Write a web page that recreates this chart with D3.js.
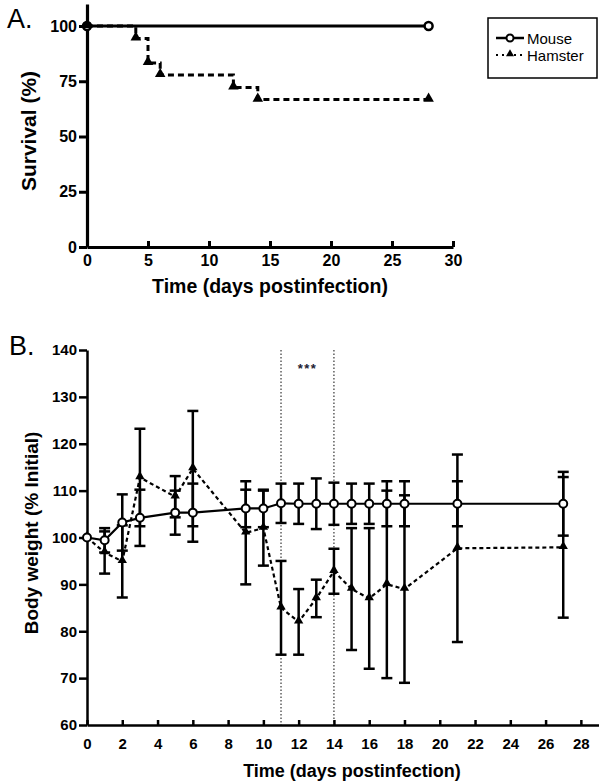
<!DOCTYPE html>
<html>
<head>
<meta charset="utf-8">
<script src="https://cdn.jsdelivr.net/npm/d3@7"></script>
<style>
  html, body { margin: 0; padding: 0; background: #fff; }
  svg { display: block; font-family: "Liberation Sans", Arial, sans-serif; }
</style>
</head>
<body>
<svg id="chart" width="600" height="782"></svg>
<script>
// ---------- Panel A: survival ----------
const survMouseDays = [0, 28];
const survMouse = [100, 100];
const survHamsterDays = [0, 4, 5, 6, 12, 14, 28];
const survHamster = [100, 94.4, 83.3, 77.8, 72.2, 66.7, 66.7];
const survXTicks = [0, 5, 10, 15, 20, 25, 30];
const survYTicks = [0, 25, 50, 75, 100];

// ---------- Panel B: body weight ----------
const bwDays = [0, 1, 2, 3, 5, 6, 9, 10, 11, 12, 13, 14, 15, 16, 17, 18, 21, 27];
const bwMouse = [100, 99.4, 103.2, 104.2, 105.3, 105.3, 106.2, 106.2, 107.3, 107.2, 107.2, 107.2, 107.2, 107.2, 107.2, 107.2, 107.2, 107.2];
const bwMouseSD = [0, 2.6, 6, 6, 4.7, 6.2, 4, 4, 4.2, 4.3, 5.4, 4.5, 4.3, 4.3, 4.8, 4.8, 4.8, 6.8];
const bwHamster = [100, 96.8, 94.9, 112.8, 108.7, 114.7, 101, 102, 85, 82, 87, 92.8, 89, 87, 90, 89, 97.7, 97.9];
const bwHamsterSD = [0, 4.5, 7.7, 10.4, 4.4, 12.3, 11, 8, 10, 7, 4, 4.8, 13, 15, 20, 20, 20, 15];
const bwXTicks = [0, 2, 4, 6, 8, 10, 12, 14, 16, 18, 20, 22, 24, 26, 28];
const bwYTicks = [60, 70, 80, 90, 100, 110, 120, 130, 140];
const sigDays = [11, 14];
const seriesNames = ["Mouse", "Hamster"];

const svg = d3.select("#chart");

// ======= Panel A =======
const xA = d3.scaleLinear().domain([0, 30]).range([87, 453]);
const yA = d3.scaleLinear().domain([0, 110]).range([247, 3.9]);

const gA = svg.append("g");
const axA_x = gA.append("g").attr("transform", `translate(0,${yA(0)})`)
  .call(d3.axisBottom(xA).tickValues(survXTicks).tickSizeInner(-6).tickSizeOuter(0).tickPadding(8).tickFormat(d3.format("d")));
const axA_y = gA.append("g").attr("transform", `translate(${xA(0)},0)`)
  .call(d3.axisLeft(yA).tickValues(survYTicks).tickSizeInner(8).tickSizeOuter(0).tickPadding(2).tickFormat(d3.format("d")));
[axA_x, axA_y].forEach(ax => {
  ax.selectAll("path.domain").attr("stroke", "#000").attr("stroke-width", 3.2);
  ax.selectAll(".tick line").attr("stroke", "#000").attr("stroke-width", 3);
  ax.selectAll(".tick text").attr("fill", "#000").style("font-size", "16px").style("font-weight", "bold").style("font-family", "'Liberation Sans', Arial, sans-serif");
});

const lineA = d3.line().x(d => xA(d[0])).y(d => yA(d[1])).curve(d3.curveStepAfter);
const mouseA = survMouseDays.map((d, i) => [d, survMouse[i]]);
const hamA = survHamsterDays.map((d, i) => [d, survHamster[i]]);

gA.append("path").datum(mouseA).attr("d", lineA).attr("fill", "none").attr("stroke", "#000").attr("stroke-width", 3);
gA.append("path").datum(hamA).attr("d", lineA).attr("fill", "none").attr("stroke", "#000").attr("stroke-width", 3).attr("stroke-dasharray", "6,4");

gA.selectAll("circle.mA").data(mouseA).enter().append("circle")
  .attr("cx", d => xA(d[0])).attr("cy", d => yA(d[1])).attr("r", 4)
  .attr("fill", "#fff").attr("stroke", "#000").attr("stroke-width", 2.5);
gA.selectAll("path.hA").data(hamA).enter().append("path")
  .attr("d", d3.symbol(d3.symbolTriangle, 48))
  .attr("transform", d => `translate(${xA(d[0])},${yA(d[1]) - 1})`)
  .attr("fill", "#000");

gA.append("text").attr("x", 7).attr("y", 28).text("A.").style("font-size", "27px").attr("fill", "#000");
gA.append("text").attr("transform", `translate(36,131) rotate(-90)`).attr("text-anchor", "middle")
  .text("Survival (%)").style("font-size", "21px").style("font-weight", "bold");
gA.append("text").attr("x", (xA(0) + xA(30)) / 2).attr("y", 293).attr("text-anchor", "middle")
  .text("Time (days postinfection)").style("font-size", "19.5px").style("font-weight", "bold");

// Legend
const lg = svg.append("g");
lg.append("rect").attr("x", 488).attr("y", 18).attr("width", 109).attr("height", 60)
  .attr("fill", "#fff").attr("stroke", "#000").attr("stroke-width", 1.5);
lg.append("line").attr("x1", 496).attr("x2", 524).attr("y1", 38).attr("y2", 38).attr("stroke", "#000").attr("stroke-width", 2.5);
lg.append("circle").attr("cx", 510).attr("cy", 38).attr("r", 3.5).attr("fill", "#fff").attr("stroke", "#000").attr("stroke-width", 2);
lg.append("line").attr("x1", 496).attr("x2", 524).attr("y1", 55).attr("y2", 55).attr("stroke", "#000").attr("stroke-width", 2).attr("stroke-dasharray", "2,4");
lg.append("path").attr("d", d3.symbol(d3.symbolTriangle, 28)).attr("transform", "translate(510,54)").attr("fill", "#000");
lg.append("text").attr("x", 527).attr("y", 44).text(seriesNames[0]).style("font-size", "15px");
lg.append("text").attr("x", 527).attr("y", 61).text(seriesNames[1]).style("font-size", "15px");

// ======= Panel B =======
const xB = d3.scaleLinear().domain([0, 29]).range([87, 598.5]);
const yB = d3.scaleLinear().domain([60, 140]).range([725, 350]);
const gB = svg.append("g");

// significance dotted lines
gB.selectAll("line.sig").data(sigDays).enter().append("line")
  .attr("x1", d => xB(d)).attr("x2", d => xB(d)).attr("y1", yB(140)).attr("y2", yB(60))
  .attr("stroke", "#444").attr("stroke-width", 1.3).attr("stroke-dasharray", "1.5,2");
gB.append("text").attr("x", xB(12.5)).attr("y", 373).attr("text-anchor", "middle")
  .text("***").style("font-size", "13px").style("font-weight", "bold").style("letter-spacing", "1.5px").attr("fill", "#223");

const axB_x = gB.append("g").attr("transform", `translate(0,${yB(60)})`)
  .call(d3.axisBottom(xB).tickValues(bwXTicks).tickSizeInner(-5).tickSizeOuter(0).tickPadding(13).tickFormat(d3.format("d")));
const axB_y = gB.append("g").attr("transform", `translate(${xB(0)},0)`)
  .call(d3.axisLeft(yB).tickValues(bwYTicks).tickSizeInner(8).tickSizeOuter(0).tickPadding(2).tickFormat(d3.format("d")));
[axB_x, axB_y].forEach(ax => {
  ax.selectAll("path.domain").attr("stroke", "#000").attr("stroke-width", 2.5);
  ax.selectAll(".tick line").attr("stroke", "#000").attr("stroke-width", 2.5);
  ax.selectAll(".tick text").attr("fill", "#000").style("font-size", "15px").style("font-weight", "bold").style("font-family", "'Liberation Sans', Arial, sans-serif");
});

const mouseB = bwDays.map((d, i) => ({ x: d, y: bwMouse[i], sd: bwMouseSD[i] }));
const hamB = bwDays.map((d, i) => ({ x: d, y: bwHamster[i], sd: bwHamsterSD[i] }));

function errorBars(data) {
  const g = gB.append("g").attr("stroke", "#000").attr("stroke-width", 2.5);
  data.filter(d => d.sd > 0).forEach(d => {
    const cx = xB(d.x), y1 = yB(d.y + d.sd), y2 = yB(d.y - d.sd);
    g.append("line").attr("x1", cx).attr("x2", cx).attr("y1", y1).attr("y2", y2);
    g.append("line").attr("x1", cx - 5.5).attr("x2", cx + 5.5).attr("y1", y1).attr("y2", y1);
    g.append("line").attr("x1", cx - 5.5).attr("x2", cx + 5.5).attr("y1", y2).attr("y2", y2);
  });
}
errorBars(hamB);
errorBars(mouseB);

const lineB = d3.line().x(d => xB(d.x)).y(d => yB(d.y));
gB.append("path").datum(hamB).attr("d", lineB).attr("fill", "none").attr("stroke", "#000").attr("stroke-width", 2.2).attr("stroke-dasharray", "4,3");
gB.append("path").datum(mouseB).attr("d", lineB).attr("fill", "none").attr("stroke", "#000").attr("stroke-width", 2.2);

gB.selectAll("path.hB").data(hamB).enter().append("path")
  .attr("d", d3.symbol(d3.symbolTriangle, 38))
  .attr("transform", d => `translate(${xB(d.x)},${yB(d.y) - 1})`)
  .attr("fill", "#000");
gB.selectAll("circle.mB").data(mouseB).enter().append("circle")
  .attr("cx", d => xB(d.x)).attr("cy", d => yB(d.y)).attr("r", 4)
  .attr("fill", "#fff").attr("stroke", "#000").attr("stroke-width", 2);

gB.append("text").attr("x", 9).attr("y", 355).text("B.").style("font-size", "27px").attr("fill", "#000");
gB.append("text").attr("transform", `translate(38,533) rotate(-90)`).attr("text-anchor", "middle")
  .text("Body weight (% Initial)").style("font-size", "19px").style("font-weight", "bold");
gB.append("text").attr("x", 352).attr("y", 777).attr("text-anchor", "middle")
  .text("Time (days postinfection)").style("font-size", "18px").style("font-weight", "bold");
</script>
</body>
</html>
